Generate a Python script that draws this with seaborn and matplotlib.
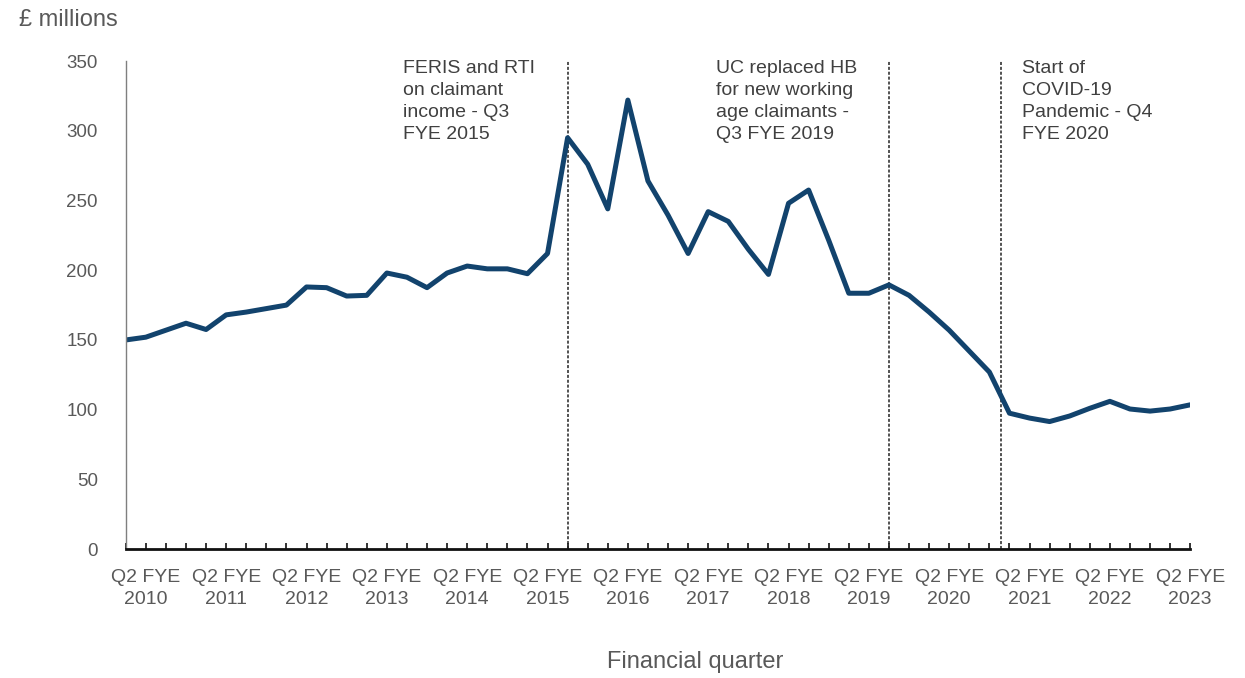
import pandas as pd
import matplotlib.pyplot as plt
import seaborn as sns

# Quarterly values, Q1 FYE 2010 to Q2 FYE 2023 (£ millions)
years = list(range(2010, 2024))
quarters = ["Q1", "Q2", "Q3", "Q4"]
values = [
    150, 152, 157, 162, 157.5, 168, 170, 172.5, 175, 188,
    187.5, 181.5, 182, 198, 195, 187.5, 198, 203, 201, 201,
    197.5, 212, 295, 276, 244, 322, 264, 239.5, 212, 242,
    235, 215, 197, 248, 257.5, 221.5, 183.5, 183.5, 189.5, 182,
    170, 157, 142, 127, 97.5, 94, 91.5, 95.5, 101, 106,
    100.5, 99, 100.5, 103.5,
]
y_ticks = [0, 50, 100, 150, 200, 250, 300, 350]

# Events marked with vertical lines (position on the quarter axis)
event_pos = [22, 38, 43.6]
event_text = [
    "FERIS and RTI\non claimant\nincome - Q3\nFYE 2015",
    "UC replaced HB\nfor new working\nage claimants -\nQ3 FYE 2019",
    "Start of\nCOVID-19\nPandemic - Q4\nFYE 2020",
]
event_text_x = [13.8, 29.4, 44.6]

LINE_COLOUR = "#12436D"
GREY = "#595959"


def main():
    labels = [f"{q} FYE {y}" for y in years for q in quarters][:len(values)]
    df = pd.DataFrame({"idx": range(len(values)), "quarter": labels, "value": values})

    sns.set_theme(style="white")
    plt.rcParams["font.family"] = ["Liberation Sans", "DejaVu Sans"]

    fig = plt.figure(figsize=(12.45, 6.78), dpi=100)
    ax = fig.add_axes([0.101, 0.19, 0.855, 0.72])

    sns.lineplot(data=df, x="idx", y="value", color=LINE_COLOUR, linewidth=3.6, ax=ax)

    # event markers
    for pos, txt, tx in zip(event_pos, event_text, event_text_x):
        ax.axvline(pos, ymin=0, ymax=1, color="#222222", linewidth=1.1,
                   linestyle=(0, (2, 1.2)), zorder=1)
        ax.text(tx, 351, txt, ha="left", va="top", fontsize=14, color="#404040",
                linespacing=1.4, clip_on=False)

    ax.set_xlim(0, len(values) - 1)
    ax.set_ylim(0, 350)

    # x ticks: every quarter, labels on Q2 each year
    major = [i for i, l in enumerate(labels) if l.startswith("Q2")]
    ax.set_xticks(major)
    ax.set_xticklabels([l.replace(" FYE ", " FYE\n") for l in labels if l.startswith("Q2")],
                       fontsize=14, color=GREY, linespacing=1.4)
    ax.set_xticks(range(len(values)), minor=True)
    ax.tick_params(axis="x", which="both", direction="in", length=4, width=1.2,
                   color="#111111", bottom=True, pad=14)

    ax.set_yticks(y_ticks)
    ax.set_yticklabels([str(v) for v in y_ticks], fontsize=13.5, color=GREY)
    ax.tick_params(axis="y", length=0, pad=20)

    ax.set_xlabel("")
    ax.set_ylabel("")
    sns.despine(ax=ax)
    ax.spines["left"].set_color("#7f7f7f")
    ax.spines["left"].set_linewidth(1.0)
    ax.spines["bottom"].set_color("#111111")
    ax.spines["bottom"].set_linewidth(2.0)

    fig.text(0.015, 0.97, "£ millions", ha="left", va="center", fontsize=17, color=GREY)
    fig.text(0.558, 0.024, "Financial quarter", ha="center", va="center", fontsize=17, color=GREY)

    fig.savefig("out.png", dpi=100, facecolor="white")
    plt.close(fig)


if __name__ == "__main__":
    main()
